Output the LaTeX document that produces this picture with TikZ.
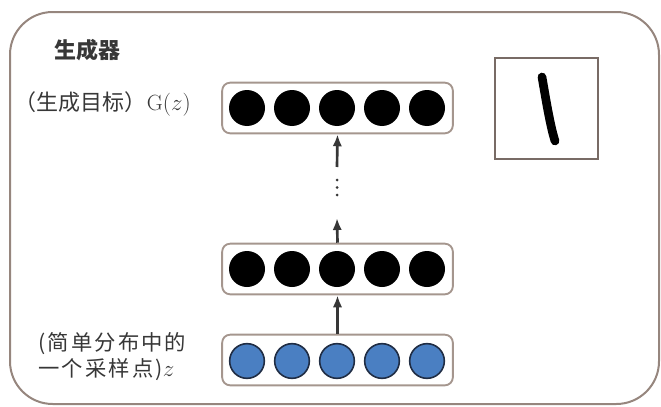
\documentclass[tikz,border=0pt]{standalone}
\usepackage{fontspec}
\usepackage{xcolor}
\usetikzlibrary{positioning}
\usetikzlibrary{arrows.meta}
\newfontfamily\cjk{Noto Sans CJK SC}
\newfontfamily\cjkwide[LetterSpace=10]{Noto Sans CJK SC}
\definecolor{frame-gray}{RGB}{150, 134, 126}
\definecolor{layer-gray}{RGB}{165, 150, 142}
\definecolor{unit-blue}{RGB}{74, 127, 194}
\definecolor{unit-edge}{RGB}{32, 45, 68}
\definecolor{label-gray}{RGB}{55, 55, 55}
\tikzset{
  layer/.style={draw=layer-gray, line width=1.4pt, rounded corners=6pt,
    minimum width=173pt, minimum height=38pt, inner sep=0pt},
  hidden/.style={circle, fill=black, minimum size=27pt, inner sep=0pt},
  input/.style={circle, fill=unit-blue, draw=unit-edge, line width=1.2pt,
    minimum size=26pt, inner sep=0pt},
  flow/.style={-{Latex[length=9pt, width=7pt]}, line width=2pt, draw=label-gray},
  label/.style={text=label-gray, inner sep=0pt},
}

\begin{document}
\begin{tikzpicture}[x=0.75pt, y=-0.75pt]
\useasboundingbox (0,0) rectangle (661,407);
\draw[frame-gray, line width=1.5pt, rounded corners=32pt] (10,12) rectangle (659,404);

% three layers, input at the bottom
\node[layer] (top) at (337.5,108) {};
\node[layer] (mid) at (337.5,269) {};
\node[layer] (bot) at (337.5,360) {};
\foreach \i in {1,...,5} {
  \node[hidden] (top-\i) at ({337+45*(\i-3)},108) {};
  \node[hidden] (mid-\i) at ({337+45*(\i-3)},269) {};
  \node[input] (bot-\i) at ({337+45*(\i-3)},361) {};
}

% arrows with the skipped layers in between
\coordinate (gap-low) at (337,218);
\coordinate (gap-high) at (337,167);
\draw[flow] (bot.north) -- (mid.south);
\draw[flow] (mid.north) -- (gap-low);
\draw[flow] (gap-high) -- (top.south);
\foreach \y in {180,187.5,195}
  \fill[label-gray] (337,\y) circle (1.5);

% labels
\node[label, anchor=west, font=\cjk\bfseries\fontsize{16.5}{19}\selectfont] (title) at (54,50) {生成器};
\node[label, anchor=east, font=\fontsize{16.5}{18}\selectfont] (goal) at (191,104) {{\cjk\fontsize{16.5}{18}\selectfont （生成目标）}$\mathrm{G}(z)$};
\node[label, anchor=west, align=left, font=\cjkwide\fontsize{16}{19.5}\selectfont] (sample) at (38,357) {(简单分布中的\\一个采样点)$z$};

% generated sample
\draw[frame-gray!80!black, line width=1.4pt] (495,58) rectangle (598,159);
\draw[line width=6.5pt, line cap=round] (542,77) .. controls (546,100) and (550,125) .. (555,141);
\end{tikzpicture}
\end{document}
